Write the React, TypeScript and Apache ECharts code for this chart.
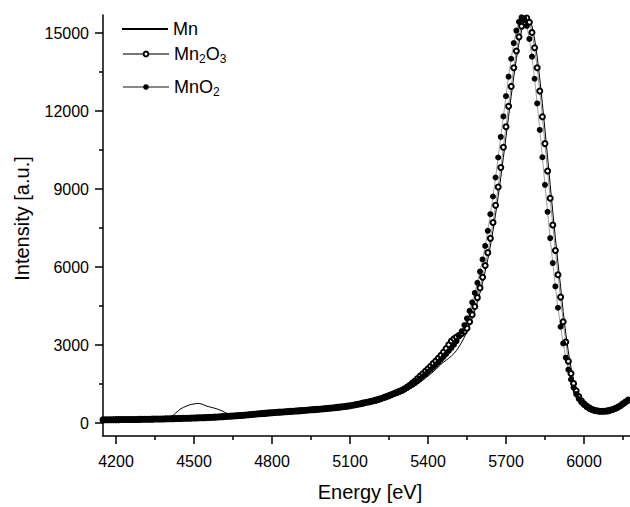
import React, { useEffect, useRef } from 'react';
import * as echarts from 'echarts';

// Energy grid of the spectra (eV): first sample and step
const E0 = 4150;
const dE = 10;

// Intensities [a.u.], one value per 10 eV from 4150 to 6170 eV
const mnValues = [
  132, 133, 134, 136, 137, 139, 140, 141, 142, 143,
  144, 145, 146, 147, 149, 151, 152, 154, 156, 158,
  160, 162, 164, 166, 169, 175, 225, 300, 390, 480,
  560, 610, 655, 690, 720, 740, 755, 758, 735, 695,
  655, 625, 600, 575, 545, 505, 460, 410, 365, 325,
  295, 285, 293, 300, 307, 315, 323, 332, 341, 350,
  359, 367, 375, 383, 391, 398, 405, 412, 419, 426,
  433, 440, 447, 454, 461, 468, 475, 483, 491, 499,
  507, 515, 523, 531, 539, 547, 556, 565, 574, 584,
  594, 605, 616, 628, 640, 653, 668, 684, 701, 719,
  738, 757, 777, 798, 820, 843, 868, 894, 921, 950,
  980, 1012, 1046, 1082, 1120, 1160, 1210, 1262, 1316, 1372,
  1430, 1500, 1575, 1650, 1730, 1810, 1890, 1975, 2065, 2165,
  2270, 2350, 2420, 2500, 2580, 2680, 2800, 2950, 3120, 3310,
  3540, 3770, 4030, 4320, 4650, 5010, 5400, 5830, 6300, 6820,
  7400, 8040, 8720, 9450, 10220, 11010, 11800, 12580, 13330, 14020,
  14620, 15100, 15440, 15610, 15570, 15280, 14780, 14100, 13250, 12300,
  11280, 10230, 9170, 8130, 7120, 6160, 5260, 4294, 3454, 2740,
  2152, 1680, 1340, 1080, 890, 760, 665, 595, 545, 510,
  485, 470, 462, 462, 468, 482, 505, 540, 585, 640,
  705, 775, 850,
];

const mn2o3Values = [
  128, 130, 132, 134, 135, 137, 138, 139, 140, 141,
  142, 143, 144, 145, 147, 149, 150, 152, 154, 156,
  158, 160, 162, 164, 167, 169, 172, 175, 178, 181,
  184, 187, 190, 193, 196, 199, 203, 207, 211, 215,
  219, 224, 229, 234, 239, 245, 251, 257, 264, 271,
  278, 285, 292, 299, 307, 315, 324, 333, 342, 351,
  360, 369, 378, 387, 396, 404, 411, 418, 425, 432,
  439, 446, 453, 460, 467, 474, 482, 490, 498, 506,
  514, 522, 530, 539, 548, 557, 566, 576, 586, 596,
  607, 618, 630, 642, 655, 669, 689, 709, 729, 750,
  771, 793, 815, 838, 862, 886, 917, 950, 985, 1022,
  1060, 1100, 1142, 1184, 1225, 1265, 1325, 1390, 1460, 1540,
  1625, 1715, 1810, 1905, 2000, 2095, 2190, 2290, 2395, 2500,
  2610, 2735, 2870, 3020, 3160, 3250, 3310, 3380, 3450, 3530,
  3655, 3900, 4175, 4485, 4830, 5205, 5615, 6065, 6560, 7110,
  7720, 8380, 9085, 9835, 10615, 11405, 12190, 12955, 13675, 14320,
  14860, 15270, 15525, 15590, 15425, 15030, 14440, 13675, 12775, 11790,
  10755, 9700, 8650, 7625, 6640, 5710, 4850, 3900, 3120, 2382,
  1910, 1525, 1245, 1025, 865, 750, 660, 590, 538, 500,
  475, 460, 458, 462, 474, 494, 524, 564, 614, 674,
  744, 814, 888,
];

const mno2Values = [
  130, 132, 133, 135, 136, 138, 139, 140, 141, 142,
  143, 144, 145, 146, 148, 150, 151, 153, 155, 157,
  159, 161, 163, 165, 168, 170, 173, 176, 179, 182,
  185, 188, 191, 194, 197, 200, 204, 208, 212, 216,
  220, 225, 230, 235, 240, 246, 252, 258, 265, 272,
  279, 286, 293, 300, 308, 316, 325, 334, 343, 352,
  361, 370, 379, 388, 397, 405, 412, 419, 426, 433,
  440, 447, 454, 461, 468, 475, 483, 491, 499, 507,
  515, 523, 531, 540, 549, 558, 567, 577, 587, 597,
  608, 619, 631, 643, 656, 670, 690, 710, 730, 750,
  770, 791, 812, 834, 857, 880, 910, 942, 975, 1010,
  1046, 1084, 1123, 1160, 1200, 1240, 1298, 1358, 1420, 1484,
  1550, 1630, 1712, 1796, 1882, 1970, 2060, 2152, 2246, 2344,
  2446, 2552, 2662, 2776, 2895, 3020, 3160, 3340, 3540, 3770,
  4030, 4320, 4650, 5010, 5400, 5830, 6300, 6820, 7400, 8040,
  8720, 9450, 10220, 11010, 11800, 12580, 13330, 14020, 14620, 15100,
  15440, 15610, 15570, 15280, 14780, 14100, 13250, 12300, 11280, 10230,
  9170, 8130, 7120, 6160, 5260, 4440, 3710, 3070, 2520, 2060,
  1680, 1370, 1120, 930, 800, 700, 620, 560, 515, 485,
  465, 455, 455, 462, 478, 500, 530, 570, 620, 680,
  750, 820, 895,
];

const xMajor = [4200, 4500, 4800, 5100, 5400, 5700, 6000];
const xMinor = [4350, 4650, 4950, 5250, 5550, 5850, 6150];
const yMajor = [0, 3000, 6000, 9000, 12000, 15000];
const yMinor = [1500, 4500, 7500, 10500, 13500];

const X_MIN = 4150;
const X_MAX = 6177;
const Y_MIN = -493;
const Y_MAX = 15702;

const FONT = '"Liberation Sans", Arial, Helvetica, sans-serif';

export default function App() {
  const ref = useRef<HTMLDivElement>(null);

  useEffect(() => {
    if (!ref.current) return;
    const chart = echarts.init(ref.current, null, { renderer: 'svg' });
    const pairs = (vals: number[]) => vals.map((v, i) => [E0 + i * dE, v]);

    const rich = {
      sub: {
        fontSize: 12,
        fontFamily: FONT,
        color: '#000',
        verticalAlign: 'bottom',
        lineHeight: 12,
      },
    };
    const legendBase = {
      orient: 'vertical',
      left: 122,
      padding: 0,
      itemWidth: 46,
      itemGap: 0,
      selectedMode: false,
      textStyle: { fontSize: 18, fontFamily: FONT, color: '#000', lineHeight: 22, rich },
      formatter: (n: string) =>
        n === 'Mn2O3' ? 'Mn{sub|2}O{sub|3}' : n === 'MnO2' ? 'MnO{sub|2}' : n,
    };

    const axisLineStyle = { color: '#000', width: 1.5 };
    const labelStyle = {
      color: '#000',
      fontSize: 16,
      fontFamily: FONT,
      formatter: (v: number) => String(v),
    };

    chart.setOption({
      animation: false,
      backgroundColor: '#fff',
      grid: { left: 103, right: 0, top: 15, bottom: 65 },
      legend: [
        { ...legendBase, top: 18, itemHeight: 2, data: [{ name: 'Mn', icon: 'rect' }] },
        { ...legendBase, top: 43, itemHeight: 6, data: ['Mn2O3'] },
        { ...legendBase, top: 76, itemHeight: 7, data: ['MnO2'] },
      ],
      xAxis: [
        {
          type: 'value',
          min: X_MIN,
          max: X_MAX,
          position: 'bottom',
          name: 'Energy [eV]',
          nameLocation: 'middle',
          nameGap: 46,
          nameTextStyle: { color: '#000', fontSize: 20, fontFamily: FONT, padding: [0, 0, 0, 7] },
          axisLine: { show: true, onZero: false, lineStyle: axisLineStyle },
          axisTick: { show: true, customValues: xMajor, length: 8, lineStyle: axisLineStyle },
          axisLabel: { show: true, customValues: xMajor, margin: 17, ...labelStyle },
          splitLine: { show: false },
        },
        {
          type: 'value',
          min: X_MIN,
          max: X_MAX,
          position: 'bottom',
          axisLine: { show: false, onZero: false },
          axisTick: { show: true, customValues: xMinor, length: 4, lineStyle: axisLineStyle },
          axisLabel: { show: false },
          splitLine: { show: false },
        },
      ],
      yAxis: [
        {
          type: 'value',
          min: Y_MIN,
          max: Y_MAX,
          position: 'left',
          name: 'Intensity [a.u.]',
          nameLocation: 'middle',
          nameGap: 71,
          nameRotate: 90,
          nameTextStyle: { color: '#000', fontSize: 20, fontFamily: FONT, padding: [0, 0, 0, 14] },
          axisLine: { show: true, onZero: false, lineStyle: axisLineStyle },
          axisTick: { show: true, customValues: yMajor, length: 8, lineStyle: axisLineStyle },
          axisLabel: { show: true, customValues: yMajor, margin: 14, ...labelStyle },
          splitLine: { show: false },
        },
        {
          type: 'value',
          min: Y_MIN,
          max: Y_MAX,
          position: 'left',
          axisLine: { show: false, onZero: false },
          axisTick: { show: true, customValues: yMinor, length: 4, lineStyle: axisLineStyle },
          axisLabel: { show: false },
          splitLine: { show: false },
        },
      ],
      series: [
        {
          name: 'Mn',
          type: 'line',
          data: pairs(mnValues),
          symbol: 'none',
          lineStyle: { color: '#000', width: 1 },
          itemStyle: { color: '#000' },
          emphasis: { disabled: true },
        },
        {
          name: 'Mn2O3',
          type: 'line',
          data: pairs(mn2o3Values),
          symbol: 'emptyCircle',
          symbolSize: 5,
          showSymbol: true,
          showAllSymbol: true,
          lineStyle: { color: '#777', width: 0.8 },
          itemStyle: { color: '#000', borderColor: '#000', borderWidth: 0.8 },
          emphasis: { disabled: true },
        },
        {
          name: 'MnO2',
          type: 'line',
          data: pairs(mno2Values),
          symbol: 'circle',
          symbolSize: 6,
          showSymbol: true,
          showAllSymbol: true,
          lineStyle: { color: '#888', width: 0.8 },
          itemStyle: { color: '#000' },
          emphasis: { disabled: true },
        },
      ],
    });
    return () => chart.dispose();
  }, []);

  return (
    <div
      ref={ref}
      style={{ position: 'absolute', left: 0, top: 0, width: 630, height: 507 }}
    />
  );
}
